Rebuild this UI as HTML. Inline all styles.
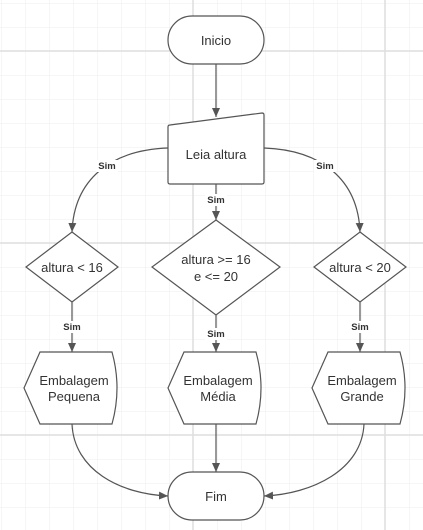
<!DOCTYPE html>
<html><head><meta charset="utf-8"><style>
html,body{margin:0;padding:0;background:#fff;}
svg{display:block;}
text{font-family:"Liberation Sans",sans-serif;fill:#333;}
</style></head><body>
<svg width="423" height="530" viewBox="0 0 423 530" xmlns="http://www.w3.org/2000/svg">
<defs>
<pattern id="g" x="1" y="3" width="24" height="24" patternUnits="userSpaceOnUse">
<path d="M0 0H24M0 0V24" stroke="#ececec" stroke-width="1" fill="none"/>
</pattern>
<marker id="a" markerWidth="10" markerHeight="10" refX="9" refY="5" orient="auto" markerUnits="userSpaceOnUse">
<path d="M0,1 L9,5 L0,9 Z" fill="#555"/>
</marker>
</defs>
<rect width="423" height="530" fill="url(#g)"/>
<g stroke="#dedede" stroke-width="1.5">
<line x1="193" y1="0" x2="193" y2="530"/><line x1="385" y1="0" x2="385" y2="530"/>
<line x1="0" y1="51" x2="423" y2="51"/><line x1="0" y1="243" x2="423" y2="243"/><line x1="0" y1="435" x2="423" y2="435"/>
</g>
<g fill="#fff" stroke="#555" stroke-width="1.2">
<rect x="168" y="16" width="96" height="48" rx="24"/>
<path d="M170,125 L262,113 Q264,113 264,115 L264,182 Q264,184 262,184 L170,184 Q168,184 168,182 L168,127 Q168,125 170,125 Z"/>
<path d="M216,220 L280,267 L216,315 L152,267 Z"/>
<path d="M72,232 L118,267 L72,302 L26,267 Z"/>
<path d="M360,232 L406,267 L360,302 L314,267 Z"/>
<path d="M40,352 L112,352 Q122,388 112,424 L40,424 L24,388 Z"/>
<path d="M184,352 L256,352 Q266,388 256,424 L184,424 L168,388 Z"/>
<path d="M328,352 L400,352 Q410,388 400,424 L328,424 L312,388 Z"/>
<rect x="168" y="472" width="96" height="48" rx="24"/>
</g>
<g fill="none" stroke="#555" stroke-width="1.2" marker-end="url(#a)">
<line x1="216" y1="64" x2="216" y2="117"/>
<line x1="216" y1="184" x2="216" y2="220"/>
<path d="M168,148 C110,150 74,180 72,232"/>
<path d="M264,148 C322,150 358,180 360,232"/>
<line x1="72" y1="302" x2="72" y2="352"/>
<line x1="216" y1="315" x2="216" y2="352"/>
<line x1="360" y1="302" x2="360" y2="352"/>
<line x1="216" y1="424" x2="216" y2="472"/>
<path d="M72,424 C74,470 120,494 168,496"/>
<path d="M364,424 C362,470 312,494 264,496"/>
</g>
<g font-size="9.5" font-weight="bold" text-anchor="middle">
<rect x="96" y="160" width="22" height="12" fill="#fff"/><text x="107" y="169">Sim</text>
<rect x="314" y="160" width="22" height="12" fill="#fff"/><text x="325" y="169">Sim</text>
<rect x="205" y="194" width="22" height="12" fill="#fff"/><text x="216" y="203">Sim</text>
<rect x="61" y="321" width="22" height="12" fill="#fff"/><text x="72" y="330">Sim</text>
<rect x="205" y="328" width="22" height="12" fill="#fff"/><text x="216" y="337">Sim</text>
<rect x="349" y="321" width="22" height="12" fill="#fff"/><text x="360" y="330">Sim</text>
</g>
<g font-size="13" text-anchor="middle">
<text x="216" y="45">Inicio</text>
<text x="216" y="159">Leia altura</text>
<text x="216" y="264">altura &gt;= 16</text>
<text x="216" y="281">e &lt;= 20</text>
<text x="72" y="272">altura &lt; 16</text>
<text x="360" y="272">altura &lt; 20</text>
<text x="74" y="385">Embalagem</text><text x="74" y="401">Pequena</text>
<text x="218" y="385">Embalagem</text><text x="218" y="401">Média</text>
<text x="362" y="385">Embalagem</text><text x="362" y="401">Grande</text>
<text x="216" y="501">Fim</text>
</g>
</svg>
</body></html>
